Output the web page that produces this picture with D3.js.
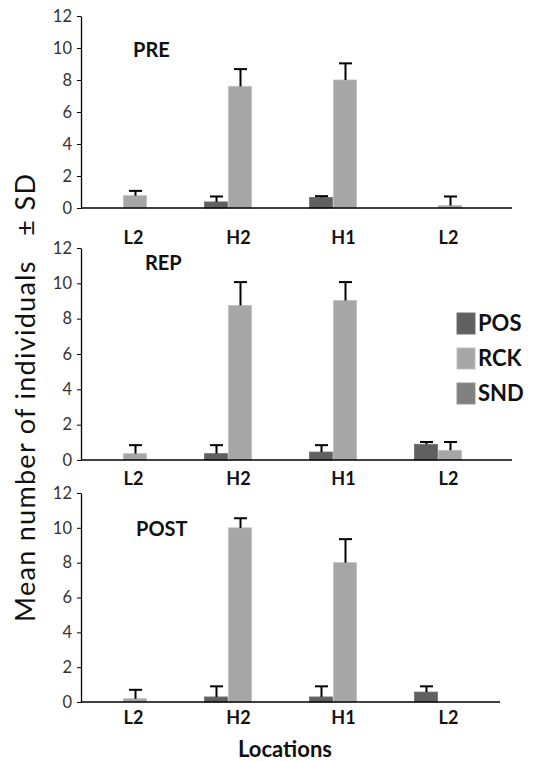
<!DOCTYPE html>
<html>
<head>
<meta charset="utf-8">
<script src="https://cdn.jsdelivr.net/npm/d3@7"></script>
<style>
  body { margin: 0; background: #fff; }
  svg { display: block; font-family: Lato, "Open Sans", sans-serif; }
</style>
</head>
<body>
<svg width="545" height="761"></svg>
<script>
const locations = ["L2", "H2", "H1", "L2 "];
const series = ["POS", "RCK", "SND"];
const colors = { POS: "#606060", RCK: "#a6a6a6", SND: "#808080" };
const yTicks = [0, 2, 4, 6, 8, 10, 12];

// mean values per location, [POS, RCK, SND]
const preMean = [[0, 0.77, 0], [0.38, 7.6, 0], [0.66, 8.0, 0], [0, 0.15, 0]];
const preTop  = [[null, 1.07, null], [0.72, 8.68, null], [0.74, 9.04, null], [null, 0.72, null]];
const repMean = [[0, 0.36, 0], [0.36, 8.75, 0], [0.45, 9.03, 0], [0.89, 0.55, 0]];
const repTop  = [[null, 0.84, null], [0.84, 10.07, null], [0.84, 10.07, null], [1.02, 1.02, null]];
const postMean = [[0, 0.19, 0], [0.29, 10.0, 0], [0.29, 8.0, 0], [0.57, 0, 0]];
const postTop  = [[null, 0.7, null], [0.9, 10.55, null], [0.9, 9.35, null], [0.9, null, null]];

const panels = [
  { name: "PRE",  mean: preMean,  top: preTop,  yTop: 16,  yZero: 208, axisEnd: 512, labelY: 244, titleX: 133, titleY: 57 },
  { name: "REP",  mean: repMean,  top: repTop,  yTop: 248, yZero: 460, axisEnd: 512, labelY: 485, titleX: 145, titleY: 270 },
  { name: "POST", mean: postMean, top: postTop, yTop: 493, yZero: 702, axisEnd: 500, labelY: 724, titleX: 136, titleY: 536 }
];

const svg = d3.select("svg");
const left = 81;

const x = d3.scaleBand().domain(locations).range([left, 501]);
const inner = d3.scaleBand().domain(series).range([-34, 38]).paddingInner(0);

panels.forEach(p => {
  const y = d3.scaleLinear().domain([0, 12]).range([p.yZero, p.yTop]);
  const g = svg.append("g");

  const yAxis = g.append("g")
    .attr("transform", `translate(${left},0)`)
    .call(d3.axisLeft(y).tickValues(yTicks).tickSize(4).tickSizeOuter(0));
  yAxis.select(".domain").attr("stroke", "#000").attr("stroke-width", 1.3);
  yAxis.selectAll(".tick line").attr("stroke", "#000");
  yAxis.selectAll(".tick text").attr("font-size", 16.5).attr("fill", "#333")
    .attr("font-family", "Lato, 'Open Sans', sans-serif").attr("dx", -2);

  // bars
  const rows = p.mean.flatMap((vals, i) => vals.map((v, j) => ({
    loc: locations[i], s: series[j], v, top: p.top[i][j]
  })));

  g.selectAll("rect.bar").data(rows.filter(d => d.v > 0)).join("rect")
    .attr("class", "bar")
    .attr("x", d => x(d.loc) + x.bandwidth() / 2 + inner(d.s))
    .attr("width", inner.bandwidth() - 1)
    .attr("y", d => y(d.v))
    .attr("height", d => y(0) - y(d.v))
    .attr("fill", d => colors[d.s])
    .attr("stroke", d => d3.color(colors[d.s]).brighter(0.4))
    .attr("stroke-width", 0.8);

  // error bars (upper only)
  const errs = rows.filter(d => d.top != null);
  const cx = d => x(d.loc) + x.bandwidth() / 2 + inner(d.s) + inner.bandwidth() / 2;
  g.selectAll("line.err").data(errs).join("line")
    .attr("x1", cx).attr("x2", cx)
    .attr("y1", d => y(d.v)).attr("y2", d => y(d.top))
    .attr("stroke", "#000").attr("stroke-width", 2);
  g.selectAll("line.cap").data(errs).join("line")
    .attr("x1", d => cx(d) - 6.5).attr("x2", d => cx(d) + 6.5)
    .attr("y1", d => y(d.top)).attr("y2", d => y(d.top))
    .attr("stroke", "#000").attr("stroke-width", 2);

  // x axis line
  g.append("line")
    .attr("x1", left).attr("x2", p.axisEnd)
    .attr("y1", y(0)).attr("y2", y(0))
    .attr("stroke", "#000").attr("stroke-width", 1.5);

  // category labels
  g.selectAll("text.cat").data(locations).join("text")
    .attr("x", d => x(d) + x.bandwidth() / 2)
    .attr("y", p.labelY)
    .attr("text-anchor", "middle")
    .attr("font-size", 18).attr("font-weight", "bold").attr("fill", "#111")
    .text(d => d.trim());

  g.append("text")
    .attr("x", p.titleX).attr("y", p.titleY)
    .attr("font-size", 20).attr("font-weight", "bold").attr("fill", "#111")
    .text(p.name);
});

// legend
const legend = svg.append("g");
series.forEach((s, i) => {
  const ly = 313 + i * 35;
  legend.append("rect")
    .attr("x", 457).attr("y", ly).attr("width", 18).attr("height", 21)
    .attr("fill", colors[s]).attr("stroke", d3.color(colors[s]).brighter(0.4));
  legend.append("text")
    .attr("x", 478).attr("y", ly + 18)
    .attr("font-size", 22).attr("font-weight", "bold").attr("fill", "#111")
    .text(s);
});

// axis titles
svg.append("text")
  .attr("transform", "translate(35,398) rotate(-90)")
  .attr("text-anchor", "middle")
  .attr("font-size", 27).attr("fill", "#111")
  .style("white-space", "pre")
  .attr("textLength", 448).attr("lengthAdjust", "spacing")
  .text("Mean number of individuals   \u00b1 SD");

svg.append("text")
  .attr("x", 285).attr("y", 757)
  .attr("text-anchor", "middle")
  .attr("font-size", 22).attr("font-weight", "bold").attr("fill", "#111")
  .text("Locations");
</script>
</body>
</html>
